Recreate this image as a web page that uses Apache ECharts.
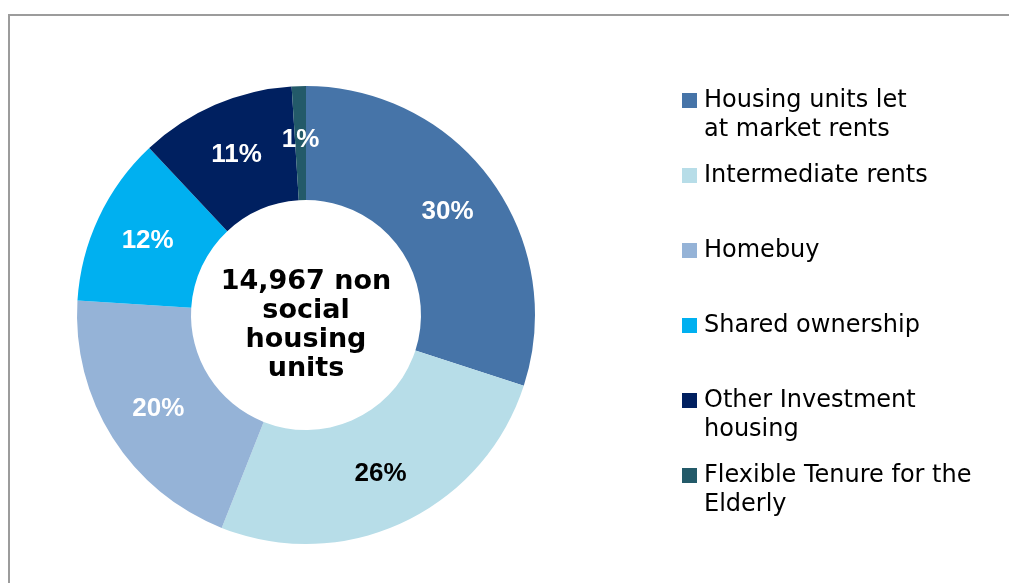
<!DOCTYPE html>
<html>
<head>
<meta charset="utf-8">
<script src="https://cdn.jsdelivr.net/npm/echarts@6/dist/echarts.min.js"></script>
<style>
  html, body { margin: 0; padding: 0; background: #ffffff; }
  #chart { width: 1009px; height: 583px; }
</style>
</head>
<body>
<div id="chart"></div>
<script>
// Tenure mix of non social housing units (percent of total)
const categories = [
  'Housing units let\nat market rents',
  'Intermediate rents',
  'Homebuy',
  'Shared ownership',
  'Other Investment\nhousing',
  'Flexible Tenure for the\nElderly'
];
const shares = [30, 26, 20, 12, 11, 1];
const colors = ['#4674A8', '#B7DDE8', '#95B3D7', '#00B0F0', '#002060', '#235A69'];
const labelColors = ['#ffffff', '#000000', '#ffffff', '#ffffff', '#ffffff', '#ffffff'];
const centerText = '14,967 non\nsocial\nhousing\nunits';

const chart = echarts.init(document.getElementById('chart'), null, { renderer: 'canvas' });

// legend squares are drawn as rich-text tokens so they sit on the first text line
const rich = {
  g: { width: 7 },
  p: { width: 22 }
};
colors.forEach((c, i) => {
  rich['s' + i] = { width: 15, height: 15, backgroundColor: c };
});
Object.keys(rich).forEach(k => { rich[k].lineHeight = 29; });

const data = categories.map((name, i) => ({
  name: name,
  value: shares[i],
  itemStyle: { color: colors[i] },
  label: { color: labelColors[i] }
}));

chart.setOption({
  animation: false,
  backgroundColor: '#ffffff',
  graphic: [
    {
      type: 'rect',
      shape: { x: 9, y: 15, width: 1100, height: 700 },
      style: { fill: 'none', stroke: '#9c9c9c', lineWidth: 2 },
      silent: true,
      z: 0
    },
    {
      type: 'text',
      x: 306,
      y: 325,
      style: {
        text: centerText,
        fontFamily: 'DejaVu Sans',
        fontWeight: 'bold',
        fontSize: 27,
        lineHeight: 29,
        fill: '#000000',
        align: 'center',
        verticalAlign: 'middle'
      },
      silent: true,
      z: 10
    }
  ],
  legend: {
    orient: 'vertical',
    left: 672,
    top: 81,
    itemWidth: 0,
    itemHeight: 0,
    itemGap: 17,
    selectedMode: false,
    data: categories,
    formatter: function (name) {
      const i = categories.indexOf(name);
      const lines = name.split('\n');
      const second = lines.length > 1 ? lines[1] : ' ';
      return '{s' + i + '|}{g|}' + lines[0] + '\n{p|}' + second;
    },
    textStyle: {
      fontFamily: 'DejaVu Sans',
      fontSize: 24,
      lineHeight: 29,
      color: '#000000',
      rich: rich
    }
  },
  series: [
    {
      type: 'pie',
      center: [306, 315],
      radius: [115, 229],
      startAngle: 90,
      clockwise: true,
      avoidLabelOverlap: false,
      emphasis: { disabled: true },
      itemStyle: { borderWidth: 0 },
      label: {
        show: true,
        position: 'inside',
        formatter: '{c}%',
        fontFamily: 'Liberation Sans',
        fontWeight: 'bold',
        fontSize: 26
      },
      labelLine: { show: false },
      data: data
    }
  ]
});
</script>
</body>
</html>
